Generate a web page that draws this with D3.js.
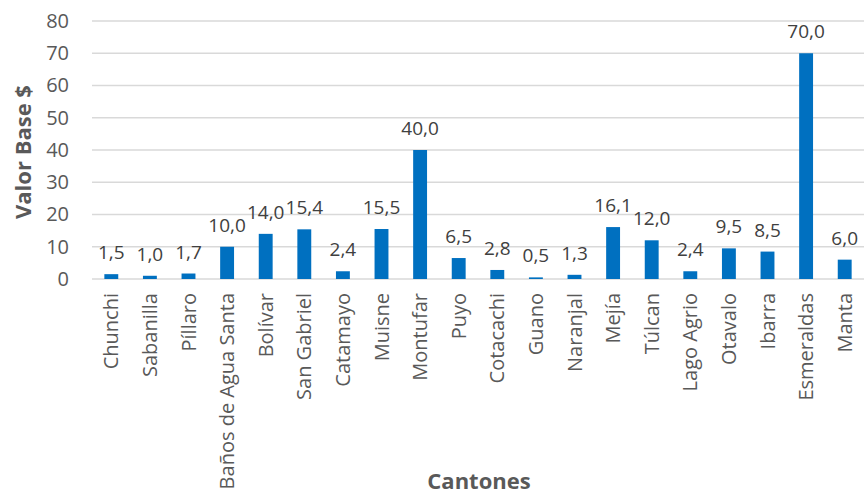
<!DOCTYPE html>
<html><head><meta charset="utf-8">
<script src="https://cdn.jsdelivr.net/npm/d3@7"></script>
<style>body{margin:0;background:#fff}svg{display:block}</style>
</head><body><svg id="c" width="868" height="495"></svg>
<script>
const categories = ["Chunchi","Sabanilla","Píllaro","Baños de Agua Santa","Bolívar","San Gabriel","Catamayo","Muisne","Montufar","Puyo","Cotacachi","Guano","Naranjal","Mejía","Túlcan","Lago Agrio","Otavalo","Ibarra","Esmeraldas","Manta"];
const values = [1.5,1.0,1.7,10.0,14.0,15.4,2.4,15.5,40.0,6.5,2.8,0.5,1.3,16.1,12.0,2.4,9.5,8.5,70.0,6.0];
const yTicks = [0,10,20,30,40,50,60,70,80];
const yTitle = "Valor Base $";
const xTitle = "Cantones";

const svg = d3.select("#c");
const font = "'Open Sans', sans-serif";
const mLeft = 92, mRight = 864, mTop = 21, mBottom = 279;
const x = d3.scaleBand().domain(categories).range([mLeft, mRight]).paddingInner(0.64).paddingOuter(0.32);
const y = d3.scaleLinear().domain([0, 80]).range([mBottom, mTop]);

// gridlines
svg.append("g").selectAll("line").data(yTicks).join("line")
  .attr("x1", mLeft).attr("x2", mRight)
  .attr("y1", d => y(d)).attr("y2", d => y(d))
  .attr("stroke", "#d9d9d9").attr("stroke-width", 1.3);

// y axis labels
const yAxis = svg.append("g").attr("transform", `translate(${mLeft},0)`)
  .call(d3.axisLeft(y).tickValues(yTicks).tickSize(0).tickPadding(23));
yAxis.select(".domain").remove();
yAxis.selectAll("text").attr("font-family", font).attr("font-size", 20).attr("fill", "#595959");

// bars
svg.append("g").selectAll("rect").data(values).join("rect")
  .attr("x", (d, i) => x(categories[i]))
  .attr("width", x.bandwidth())
  .attr("y", d => y(d))
  .attr("height", d => y(0) - y(d))
  .attr("fill", "#0070C0");

// data labels
svg.append("g").selectAll("text").data(values).join("text")
  .attr("x", (d, i) => x(categories[i]) + x.bandwidth() / 2)
  .attr("y", d => y(d) - 15)
  .attr("text-anchor", "middle")
  .attr("font-family", font).attr("font-size", 19).attr("fill", "#404040")
  .text(d => d.toFixed(1).replace(".", ","));

// x axis labels
const xAxis = svg.append("g").attr("transform", `translate(0,${mBottom})`)
  .call(d3.axisBottom(x).tickSize(0).tickPadding(0));
xAxis.select(".domain").remove();
xAxis.selectAll("text")
  .attr("font-family", font).attr("font-size", 20).attr("fill", "#595959")
  .attr("transform", "rotate(-90)")
  .attr("text-anchor", "end")
  .attr("x", -14).attr("y", 0).attr("dy", "0.35em");

// titles
svg.append("text").attr("transform", `translate(31,152) rotate(-90)`)
  .attr("text-anchor", "middle").attr("font-family", font).attr("font-weight", "bold")
  .attr("font-size", 22).attr("fill", "#595959").text(yTitle);
svg.append("text").attr("x", 479).attr("y", 489)
  .attr("text-anchor", "middle").attr("font-family", font).attr("font-weight", "bold")
  .attr("font-size", 22).attr("fill", "#595959").text(xTitle);
</script></body></html>
